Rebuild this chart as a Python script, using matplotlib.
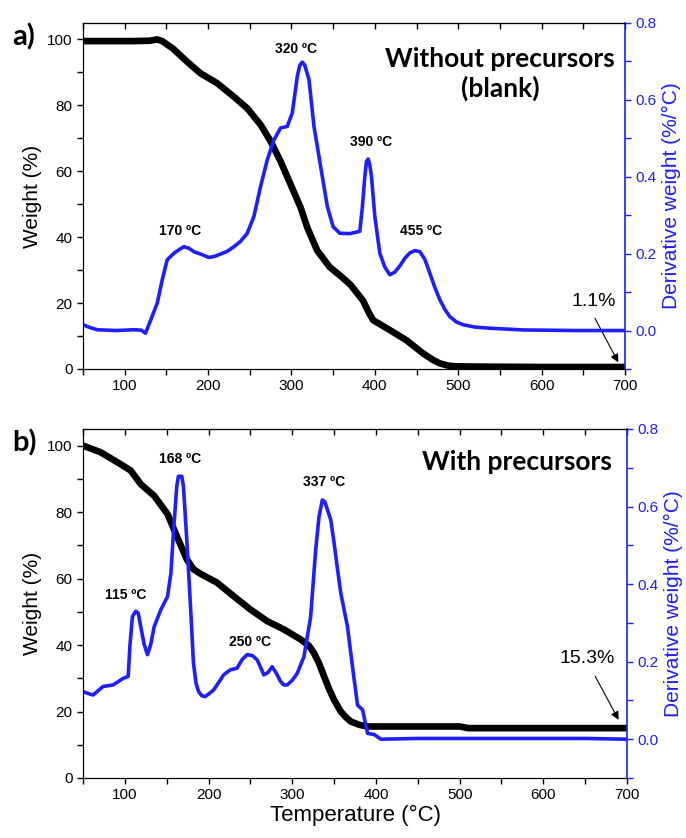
import numpy as np
import matplotlib.pyplot as plt
from matplotlib.ticker import MultipleLocator

plt.rcParams['font.family'] = ['Liberation Sans', 'DejaVu Sans']

# ---- panel a) : without precursors (blank) ----
t_w_a = [50, 80, 110, 130, 139, 145, 158, 175, 191, 211, 231, 247, 263, 275, 287, 299, 311,
         319, 331, 346, 360, 371, 386, 392, 398, 418, 438, 458, 470, 478, 488, 498, 530, 600, 700]
w_a = [99.5, 99.5, 99.5, 99.6, 100.0, 99.5, 97.2, 93.2, 89.7, 86.7, 82.6, 79.1, 74.1, 69.1,
       63.0, 56.0, 49.0, 42.9, 35.9, 30.9, 28.0, 25.5, 20.7, 17.5, 14.8, 11.8, 8.7, 4.7, 2.7,
       1.7, 1.0, 0.8, 0.7, 0.6, 0.6]

t_d_a = [50, 58, 67, 90, 110, 120, 125, 139, 145, 151, 159, 165, 171, 177, 183, 192, 201, 208,
         215, 223, 231, 239, 247, 255, 263, 271, 279, 287, 295, 301, 307, 310, 313, 316, 321,
         327, 335, 343, 350, 358, 370, 382, 385, 388, 390, 392, 394, 396, 400, 406, 412, 418,
         424, 430, 436, 442, 448, 454, 460, 466, 472, 478, 484, 490, 498, 506, 520, 538, 578,
         640, 700]
d_a = [0.015, 0.008, 0.002, 0.0, 0.002, 0.001, -0.007, 0.071, 0.132, 0.184, 0.201, 0.21,
       0.218, 0.214, 0.205, 0.198, 0.19, 0.193, 0.199, 0.206, 0.218, 0.232, 0.253, 0.297,
       0.375, 0.444, 0.496, 0.527, 0.531, 0.566, 0.661, 0.69, 0.698, 0.69, 0.653, 0.531,
       0.427, 0.323, 0.27, 0.253, 0.252, 0.258, 0.32, 0.40, 0.44, 0.446, 0.43, 0.40, 0.297,
       0.201, 0.165, 0.145, 0.152, 0.168, 0.188, 0.202, 0.208, 0.205, 0.185, 0.149, 0.112,
       0.08, 0.055, 0.036, 0.022, 0.015, 0.009, 0.006, 0.0015, 0.0, 0.0]

peaks_a = [("170 ºC", 167, 42), ("320 ºC", 305, 97), ("390 ºC", 396, 69), ("455 ºC", 456, 42)]

# ---- panel b) : with precursors ----
t_w_b = [50, 71, 91, 107, 119, 135, 151, 162, 174, 182, 190, 210, 230, 250, 270, 290, 310,
         320, 326, 332, 338, 344, 350, 358, 364, 370, 380, 390, 420, 460, 500, 510, 560, 620, 700]
w_b = [100, 98.0, 95.0, 92.5, 88.4, 84.9, 79.4, 72.8, 65.8, 62.8, 61.5, 58.8, 54.7, 50.7,
       47.2, 44.7, 41.7, 39.8, 37.6, 34.5, 30.6, 26.8, 23.5, 20.0, 18.3, 17.0, 16.0, 15.5,
       15.5, 15.5, 15.5, 15.0, 15.0, 15.0, 15.0]

t_d_b = [50, 56, 62, 68, 74, 86, 98, 104, 106, 109, 113, 116, 119, 123, 127, 131, 135, 143,
         151, 155, 158, 162, 164, 168, 170, 174, 178, 182, 185, 188, 192, 196, 201, 206, 212,
         218, 226, 234, 240, 246, 252, 258, 262, 266, 271, 276, 281, 286, 290, 294, 300, 306,
         314, 322, 328, 332, 336, 339, 342, 346, 350, 354, 358, 366, 372, 378, 384, 390, 398,
         406, 450, 500, 550, 600, 650, 700]
d_b = [0.123, 0.118, 0.114, 0.125, 0.136, 0.14, 0.157, 0.162, 0.24, 0.316, 0.33, 0.325,
       0.29, 0.245, 0.218, 0.245, 0.29, 0.334, 0.368, 0.428, 0.532, 0.652, 0.678, 0.678,
       0.652, 0.514, 0.36, 0.196, 0.145, 0.123, 0.112, 0.11, 0.118, 0.127, 0.146, 0.166,
       0.179, 0.183, 0.205, 0.218, 0.216, 0.205, 0.186, 0.166, 0.172, 0.187, 0.17, 0.149,
       0.14, 0.14, 0.152, 0.17, 0.213, 0.316, 0.488, 0.574, 0.617, 0.612, 0.592, 0.566,
       0.506, 0.44, 0.377, 0.29, 0.187, 0.088, 0.076, 0.015, 0.012, 0.0, 0.002, 0.002,
       0.002, 0.002, 0.002, 0.0]

peaks_b = [("115 ºC", 101, 55), ("168 ºC", 166, 96), ("250 ºC", 250, 41), ("337 ºC", 338, 89)]

blue = "#1e1eff"

fig = plt.figure(figsize=(6.86, 8.38), dpi=100)
ax_a = fig.add_axes([0.121, 0.5597, 0.790, 0.4129])
ax_b = fig.add_axes([0.121, 0.0716, 0.793, 0.4165])


def draw_panel(ax, tw, w, td, d, peaks, title, note, note_xy, arrow_tail, arrow_head, tag):
    ax.plot(tw, w, color="black", lw=4.8, solid_capstyle="butt", zorder=3)
    ax.set_xlim(50, 700)
    ax.set_ylim(0, 105)
    ax.xaxis.set_major_locator(MultipleLocator(100))
    ax.xaxis.set_minor_locator(MultipleLocator(50))
    ax.yaxis.set_major_locator(MultipleLocator(20))
    ax.yaxis.set_minor_locator(MultipleLocator(10))
    ax.tick_params(which="both", direction="out", length=4, width=1, labelsize=11)
    ax.set_ylabel("Weight (%)", fontsize=15)
    ax.spines["right"].set_visible(False)

    # inward ticks along the top spine
    top = ax.secondary_xaxis("top")
    top.xaxis.set_major_locator(MultipleLocator(100))
    top.xaxis.set_minor_locator(MultipleLocator(50))
    top.tick_params(which="both", direction="in", length=4, width=1, labeltop=False)

    ax2 = ax.twinx()
    ax2.plot(td, d, color=blue, lw=2.6, zorder=2)
    ax2.set_ylim(-0.1, 0.8)
    ax2.yaxis.set_major_locator(MultipleLocator(0.2))
    ax2.yaxis.set_minor_locator(MultipleLocator(0.1))
    ax2.tick_params(which="both", direction="out", length=4, width=1, labelsize=11,
                    colors=blue)
    ax2.spines["right"].set_color(blue)
    ax2.spines["right"].set_linewidth(1.2)
    ax2.set_ylabel("Derivative weight (%/°C)", fontsize=15, color=blue)
    ax2.yaxis.set_major_formatter(plt.FuncFormatter(lambda v, p: f"{v:.1f}"))

    for lab, x, y in peaks:
        ax.text(x, y, lab, fontsize=10, fontweight="bold", ha="center", va="center", zorder=5)
    ax.text(*title[1], title[0], fontsize=19, fontweight="bold", family=["Lato", "DejaVu Sans"],
            ha="center", va="center", linespacing=1.25, zorder=5)
    ax.text(*note_xy, note, fontsize=14, ha="center", va="center", zorder=5)
    ax.annotate("", xy=arrow_head, xytext=arrow_tail,
                arrowprops=dict(arrowstyle="-|>", color="black", lw=0.8,
                                mutation_scale=12, shrinkA=0, shrinkB=0), zorder=6)
    ax.text(-0.13, 0.96, tag, transform=ax.transAxes, fontsize=21, fontweight="bold",
            family=["Lato", "DejaVu Sans"], ha="left", va="center")
    return ax2


draw_panel(ax_a, t_w_a, w_a, t_d_a, d_a, peaks_a,
           ("Without precursors\n(blank)", (550, 89.5)), "1.1%", (662, 20.5),
           (664, 15.4), (692, 2.0), "a)")
draw_panel(ax_b, t_w_b, w_b, t_d_b, d_b, peaks_b,
           ("With precursors", (568, 95)), "15.3%", (652, 36),
           (662, 30.6), (690, 17.5), "b)")
ax_b.set_xlabel("Temperature (°C)", fontsize=16, labelpad=2)

fig.savefig("out.png", dpi=100)
